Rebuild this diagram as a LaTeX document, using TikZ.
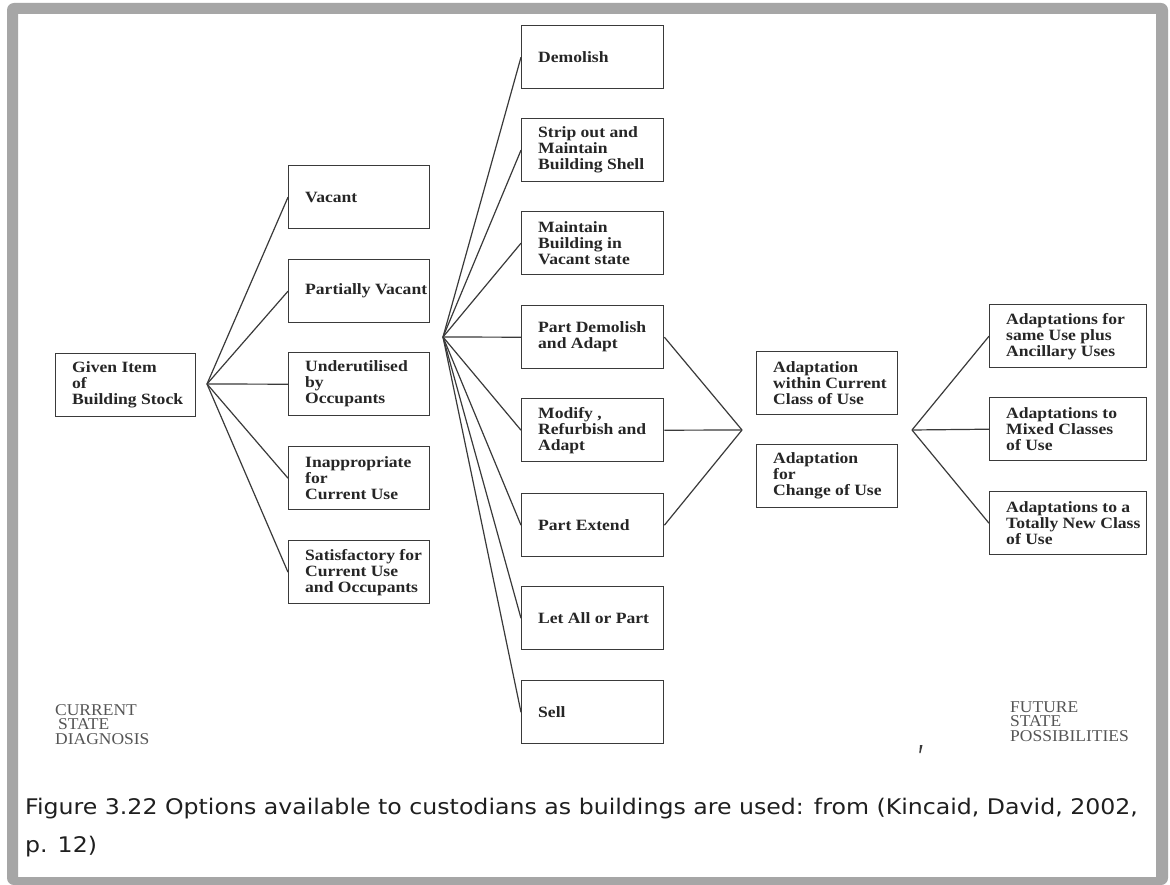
\documentclass[tikz,border=0pt]{standalone}
\usepackage{fontspec}
\setmainfont{Liberation Serif}
\newfontfamily\boxfont{Liberation Serif}[FakeStretch=1.12]
\newfontfamily\labfont{Liberation Serif}[FakeStretch=1.06]
\newfontfamily\capfont{DejaVu Sans}[FakeStretch=1.1]
\definecolor{framec}{HTML}{A6A6A6}
\definecolor{inkc}{HTML}{3A3A3A}
\definecolor{txtc}{HTML}{262626}
\definecolor{labc}{HTML}{555555}
\definecolor{capc}{HTML}{1F1F1F}
% one option box: name, left x, top y, width, text
\newcommand\optbox[5]{%
  \node[box, minimum width=#4pt] (#1) at (#2,#3) {};
  \node[boxtext] (#1-t) at ([xshift=17pt]#1.west) {#5};
}
\begin{document}
\begin{tikzpicture}[x=1pt,y=-1pt,
  link/.style={draw=inkc, line width=1.2pt},
  box/.style={draw=inkc, line width=1.4pt, minimum height=63pt, inner sep=0pt, anchor=north west},
  boxtext/.style={anchor=west, align=left, inner sep=0pt, text=txtc,
    font=\boxfont\bfseries\fontsize{15.7}{16}\selectfont},
  steplabel/.style={anchor=north west, align=left, inner sep=0pt, text=labc,
    font=\labfont\fontsize{16.5}{14.5}\selectfont},
  caption/.style={anchor=west, inner sep=0pt, text=capc,
    font=\capfont\fontsize{21.5}{26}\selectfont}]
\useasboundingbox (0,0) rectangle (1170,885);
\fill[white] (0,0) rectangle (1170,885);
% grey page frame
\path[fill=framec, even odd rule] [rounded corners=7pt] (7,3) rectangle (1168,885)
  [sharp corners] (18,14) rectangle (1156,877);

% current state
\optbox{given}{55}{353}{140}{Given Item\\of\\Building Stock}
\optbox{vacant}{288}{165}{141}{Vacant}
\optbox{partial}{288}{259}{141}{Partially Vacant}
\optbox{under}{288}{352}{141}{Underutilised\\by\\Occupants}
\optbox{inapp}{288}{446}{141}{Inappropriate\\for\\Current Use}
\optbox{satis}{288}{540}{141}{Satisfactory for\\Current Use\\and Occupants}

% options
\optbox{demolish}{521}{25}{142}{Demolish}
\optbox{strip}{521}{118}{142}{Strip out and\\Maintain\\Building Shell}
\optbox{maintain}{521}{211}{142}{Maintain\\Building in\\Vacant state}
\optbox{partdem}{521}{305}{142}{Part Demolish\\and Adapt}
\optbox{modify}{521}{398}{142}{Modify ,\\Refurbish and\\Adapt}
\optbox{extend}{521}{493}{142}{Part Extend}
\optbox{let}{521}{586}{142}{Let All or Part}
\optbox{sell}{521}{680}{142}{Sell}

% adaptation
\optbox{within}{756}{351}{141}{Adaptation\\within Current\\Class of Use}
\optbox{change}{756}{444}{141}{Adaptation\\for\\Change of Use}

% future state
\optbox{same}{989}{304}{157}{Adaptations for\\same Use plus\\Ancillary Uses}
\optbox{mixed}{989}{397}{157}{Adaptations to\\Mixed Classes\\of Use}
\optbox{newcl}{989}{491}{157}{Adaptations to a\\Totally New Class\\of Use}

% branch points
\coordinate (fanA) at (207,384);
\coordinate (fanB) at (443,337);
\coordinate (joinC) at (742,430);
\coordinate (fanD) at (912,430);

\foreach \n in {vacant,partial,under,inapp,satis}
  \draw[link] (fanA) -- (\n.west);
\foreach \n in {demolish,strip,maintain,partdem,modify,extend,let,sell}
  \draw[link] (fanB) -- (\n.west);
\foreach \n in {partdem,modify,extend}
  \draw[link] (\n.east) -- (joinC);
\foreach \n in {same,mixed,newcl}
  \draw[link] (fanD) -- (\n.west);

% side headings
\node[steplabel] (cur) at (55,704) {CURRENT\\\hspace{3pt}STATE\\DIAGNOSIS};
\node[steplabel] (fut) at (1010,701) {FUTURE\\STATE\\POSSIBILITIES};
\fill[inkc] (920,745) -- (922.5,745) -- (920.5,753) -- (919.3,753) -- cycle;

% caption
\node[caption] (cap1) at (25,809) {Figure 3.22 Options available to custodians as buildings are used: from (Kincaid, David, 2002,};
\node[caption] (cap2) at (25,847) {p. 12)};
\end{tikzpicture}
\end{document}
